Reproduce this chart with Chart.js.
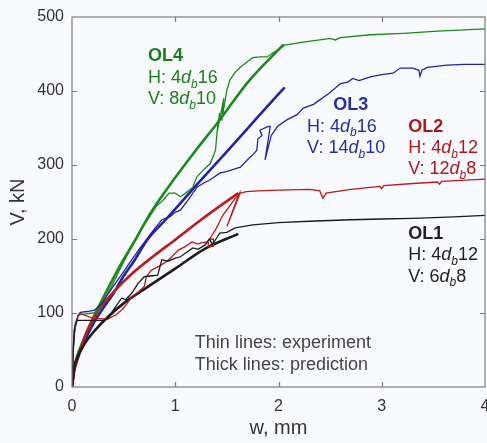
<!DOCTYPE html>
<html>
<head>
<meta charset="utf-8">
<script src="https://cdn.jsdelivr.net/npm/chart.js@4/dist/chart.umd.min.js"></script>
<style>
  html, body { margin: 0; padding: 0; background: #f9fafd; }
  #wrap { width: 487px; height: 443px; }
</style>
</head>
<body>
<div id="wrap"><canvas id="c" width="487" height="443"></canvas></div>
<script>
// ---- Shear load V (kN) vs. crack opening w (mm) ----

// OL1 (H: 4 d_b 12, V: 6 d_b 8)
const ol1ExpW  = [0, 0.01, 0.02, 0.03, 0.05, 0.1, 0.2, 0.3, 0.35, 0.38, 0.42, 0.48, 0.52, 0.58, 0.64, 0.7, 0.76, 0.83, 0.87, 0.93, 1.0, 1.05, 1.1, 1.17, 1.22, 1.29, 1.33, 1.36, 1.4, 1.43, 1.5, 1.58, 1.75, 2.0, 2.3, 2.7, 3.0, 3.3, 3.7, 4.0];
const ol1ExpV  = [0, 40, 70, 82, 90, 90, 90, 90, 92, 100, 108, 120, 118, 127, 140, 149, 150, 151, 172, 170, 174, 176, 181, 188, 186, 192, 200, 193, 201, 208, 209, 215, 219, 222, 224, 226, 227, 228, 230, 232];
const ol1PredW = [0, 0.02, 0.06, 0.12, 0.2, 0.35, 0.5, 0.74, 1.0, 1.29, 1.61];
const ol1PredV = [0, 25, 42, 58, 73, 95, 113, 136, 160, 187, 207];

// OL2 (H: 4 d_b 12, V: 12 d_b 8)
const ol2ExpW  = [0, 0.01, 0.02, 0.05, 0.08, 0.12, 0.2, 0.3, 0.36, 0.42, 0.48, 0.53, 0.58, 0.64, 0.7, 0.72, 0.77, 0.84, 0.9, 0.96, 1.03, 1.1, 1.16, 1.22, 1.26, 1.32, 1.32, 1.37, 1.37, 1.33, 1.4, 1.46, 1.52, 1.58, 1.62, 1.5, 1.63, 1.69, 1.8, 2.01, 2.3, 2.4, 2.43, 2.46, 2.7, 2.98, 3.0, 3.02, 3.3, 3.54, 3.56, 3.58, 4.0];
const ol2ExpV  = [0, 45, 77, 93, 100, 97, 93, 92, 93, 97, 104, 112, 122, 128, 136, 149, 158, 163, 168, 175, 185, 190, 196, 193, 195, 196, 190, 190, 200, 199, 215, 232, 243, 255, 262, 217, 262, 264, 265, 266, 267, 265, 255, 262, 267, 271, 268, 272, 275, 277, 274, 278, 281];
const ol2PredW = [0, 0.02, 0.06, 0.13, 0.25, 0.4, 0.58, 0.8, 1.0, 1.26, 1.61];
const ol2PredV = [0, 20, 40, 70, 102, 128, 153, 178, 199, 227, 262];

// OL3 (H: 4 d_b 16, V: 14 d_b 10)
const ol3ExpW  = [0, 0.01, 0.03, 0.06, 0.08, 0.15, 0.22, 0.29, 0.35, 0.42, 0.5, 0.58, 0.66, 0.74, 0.8, 0.87, 0.95, 1.0, 1.05, 1.12, 1.21, 1.28, 1.34, 1.43, 1.52, 1.63, 1.7, 1.76, 1.79, 1.8, 1.84, 1.82, 1.9, 1.92, 1.87, 1.93, 1.99, 2.08, 2.18, 2.24, 2.34, 2.4, 2.5, 2.6, 2.67, 2.72, 2.78, 2.89, 3.0, 3.11, 3.18, 3.3, 3.36, 3.37, 3.39, 3.44, 3.63, 3.8, 4.0];
const ol3ExpV  = [0, 50, 80, 97, 101, 102, 104, 113, 126, 140, 156, 172, 188, 203, 214, 226, 230, 236, 239, 252, 270, 276, 280, 289, 292, 297, 307, 315, 320, 335, 340, 347, 352, 352, 307, 340, 352, 361, 368, 377, 382, 388, 398, 410, 412, 417, 414, 419, 422, 424, 431, 431, 428, 420, 428, 432, 435, 436, 436];
const ol3PredW = [0, 0.02, 0.05, 0.1, 0.2, 0.3, 0.39, 0.5, 0.6, 0.73, 0.9, 1.2, 1.5, 1.8, 2.06];
const ol3PredV = [0, 22, 38, 55, 84, 106, 124, 150, 170, 199, 225, 272, 318, 365, 405];

// OL4 (H: 4 d_b 16, V: 8 d_b 10)
const ol4ExpW  = [0, 0.01, 0.03, 0.06, 0.1, 0.2, 0.25, 0.3, 0.38, 0.45, 0.53, 0.6, 0.68, 0.75, 0.82, 0.88, 0.94, 1.0, 1.05, 1.1, 1.17, 1.21, 1.27, 1.34, 1.39, 1.41, 1.43, 1.41, 1.47, 1.45, 1.5, 1.53, 1.58, 1.63, 1.7, 1.75, 1.82, 1.89, 1.95, 1.99, 2.06, 2.15, 2.24, 2.4, 2.5, 2.55, 2.6, 2.89, 3.21, 3.54, 4.0];
const ol4ExpV  = [0, 50, 85, 97, 98, 100, 102, 115, 135, 155, 177, 195, 215, 230, 245, 252, 262, 262, 257, 262, 270, 284, 293, 302, 320, 352, 370, 347, 390, 360, 401, 415, 425, 432, 440, 445, 446, 446, 452, 455, 462, 464, 466, 469, 471, 469, 472, 476, 478, 481, 484];
const ol4PredW = [0, 0.02, 0.05, 0.1, 0.2, 0.3, 0.45, 0.63, 0.76, 1.0, 1.2, 1.41, 1.71, 2.05];
const ol4PredV = [0, 25, 42, 60, 92, 120, 160, 203, 235, 283, 320, 357, 413, 463];

// Specimen names and reinforcement (n, bar size)
const specimens  = ['OL1', 'OL2', 'OL3', 'OL4'];
const horizReinf = [['4', '12'], ['4', '12'], ['4', '16'], ['4', '16']];
const vertReinf  = [['6', '8'], ['12', '8'], ['14', '10'], ['8', '10']];
const seriesColors = ['#1c1c1c', '#b81c1c', '#24249e', '#1b8a1b'];
const textColors   = ['#222222', '#b01818', '#25309a', '#1a7f1a'];

// Axis ticks
const xTicks = [0, 1, 2, 3, 4];
const yTicks = [0, 100, 200, 300, 400, 500];
const xTitle = 'w, mm';
const yTitle = 'V, kN';
const noteLines = ['Thin lines: experiment', 'Thick lines: prediction'];

const FAMILY = '"Liberation Sans", Arial, Helvetica, sans-serif';

function pts(w, v) { return w.map((x, i) => ({ x: x, y: v[i] })); }

const expSets  = [[ol1ExpW, ol1ExpV], [ol2ExpW, ol2ExpV], [ol3ExpW, ol3ExpV], [ol4ExpW, ol4ExpV]];
const predSets = [[ol1PredW, ol1PredV], [ol2PredW, ol2PredV], [ol3PredW, ol3PredV], [ol4PredW, ol4PredV]];

const datasets = [];
specimens.forEach((name, i) => {
  datasets.push({
    label: name + ' experiment',
    data: pts(expSets[i][0], expSets[i][1]),
    borderColor: seriesColors[i], borderWidth: 1.3,
    pointRadius: 0, showLine: true, tension: 0, fill: false
  });
});
specimens.forEach((name, i) => {
  datasets.push({
    label: name + ' prediction',
    data: pts(predSets[i][0], predSets[i][1]),
    borderColor: seriesColors[i], borderWidth: 2.6,
    pointRadius: 0, showLine: true, cubicInterpolationMode: 'monotone', fill: false
  });
});

// Label anchors in data units: [w of title, w of lines, V of title baseline]
const labelAnchors = [
  [3.256, 3.256, 200],
  [3.256, 3.256, 345],
  [2.53, 2.277, 374],
  [0.736, 0.736, 440]
];
const noteAnchor = [1.19, 53];

function drawRuns(ctx, x, y, runs, size, color) {
  let cx = x;
  ctx.fillStyle = color;
  ctx.textBaseline = 'alphabetic';
  ctx.textAlign = 'left';
  for (const [txt, kind] of runs) {
    let dy = 0;
    if (kind === 'b') ctx.font = 'bold ' + size + 'px ' + FAMILY;
    else if (kind === 'i') ctx.font = 'italic ' + size + 'px ' + FAMILY;
    else if (kind === 'sub') { ctx.font = 'italic ' + Math.round(size * 0.68) + 'px ' + FAMILY; dy = size * 0.27; }
    else ctx.font = size + 'px ' + FAMILY;
    ctx.fillText(txt, cx, y + dy);
    cx += ctx.measureText(txt).width;
  }
}

const framePlugin = {
  id: 'framePlugin',
  beforeDraw(chart) {
    const ctx = chart.ctx;
    ctx.save();
    ctx.fillStyle = '#f9fafd';
    ctx.fillRect(0, 0, chart.width, chart.height);
    ctx.restore();
  },
  afterDatasetsDraw(chart) {
    const { ctx, chartArea: a, scales: { x, y } } = chart;
    ctx.save();
    ctx.strokeStyle = '#7d7d7d';
    ctx.lineWidth = 1.2;
    ctx.strokeRect(a.left, a.top, a.right - a.left, a.bottom - a.top);
    ctx.beginPath();
    xTicks.slice(1, -1).forEach(v => {
      const px = Math.round(x.getPixelForValue(v)) + 0.5;
      ctx.moveTo(px, a.bottom); ctx.lineTo(px, a.bottom - 5);
      ctx.moveTo(px, a.top); ctx.lineTo(px, a.top + 5);
    });
    yTicks.slice(1, -1).forEach(v => {
      const py = Math.round(y.getPixelForValue(v)) + 0.5;
      ctx.moveTo(a.left, py); ctx.lineTo(a.left + 5, py);
      ctx.moveTo(a.right, py); ctx.lineTo(a.right - 5, py);
    });
    ctx.stroke();

    // specimen labels
    const size = 18, lh = 21.3;
    specimens.forEach((name, i) => {
      const [wt, wl, vb] = labelAnchors[i];
      const tx = x.getPixelForValue(wt), lx = x.getPixelForValue(wl), by = y.getPixelForValue(vb);
      const col = textColors[i];
      drawRuns(ctx, tx, by, [[name, 'b']], size, col);
      drawRuns(ctx, lx, by + lh, [['H: ' + horizReinf[i][0], 'n'], ['d', 'i'], ['b', 'sub'], [horizReinf[i][1], 'n']], size, col);
      drawRuns(ctx, lx, by + 2 * lh, [['V: ' + vertReinf[i][0], 'n'], ['d', 'i'], ['b', 'sub'], [vertReinf[i][1], 'n']], size, col);
    });

    // line-style note
    const nx = x.getPixelForValue(noteAnchor[0]), ny = y.getPixelForValue(noteAnchor[1]);
    noteLines.forEach((t, k) => drawRuns(ctx, nx, ny + k * 22, [[t, 'n']], 18, '#444444'));
    ctx.restore();
  }
};

new Chart(document.getElementById('c'), {
  type: 'scatter',
  data: { datasets: datasets },
  options: {
    responsive: false,
    animation: false,
    devicePixelRatio: 1,
    layout: { padding: { left: 0, right: 2, top: 17, bottom: 0 } },
    plugins: { legend: { display: false }, tooltip: { enabled: false } },
    scales: {
      x: {
        type: 'linear', min: 0, max: 4,
        afterBuildTicks: s => { s.ticks = xTicks.map(v => ({ value: v })); },
        ticks: { padding: 10, color: '#333', font: { family: FAMILY, size: 16 }, maxRotation: 0 },
        grid: { display: false, drawTicks: false },
        border: { display: false },
        title: { display: true, text: xTitle, color: '#333', font: { family: FAMILY, size: 20 }, padding: { top: 0, bottom: 3 } },
        afterFit: s => { s.height = 56; s.paddingLeft = 0; s.paddingRight = 0; }
      },
      y: {
        type: 'linear', min: 0, max: 500,
        afterBuildTicks: s => { s.ticks = yTicks.map(v => ({ value: v })); },
        ticks: { padding: 8, color: '#333', font: { family: FAMILY, size: 16 } },
        grid: { display: false, drawTicks: false },
        border: { display: false },
        title: { display: true, text: yTitle, color: '#333', font: { family: FAMILY, size: 20 }, padding: { top: 6, bottom: 0 } },
        afterFit: s => { s.width = 72; s.paddingTop = 0; s.paddingBottom = 0; }
      }
    }
  },
  plugins: [framePlugin]
});
</script>
</body>
</html>
